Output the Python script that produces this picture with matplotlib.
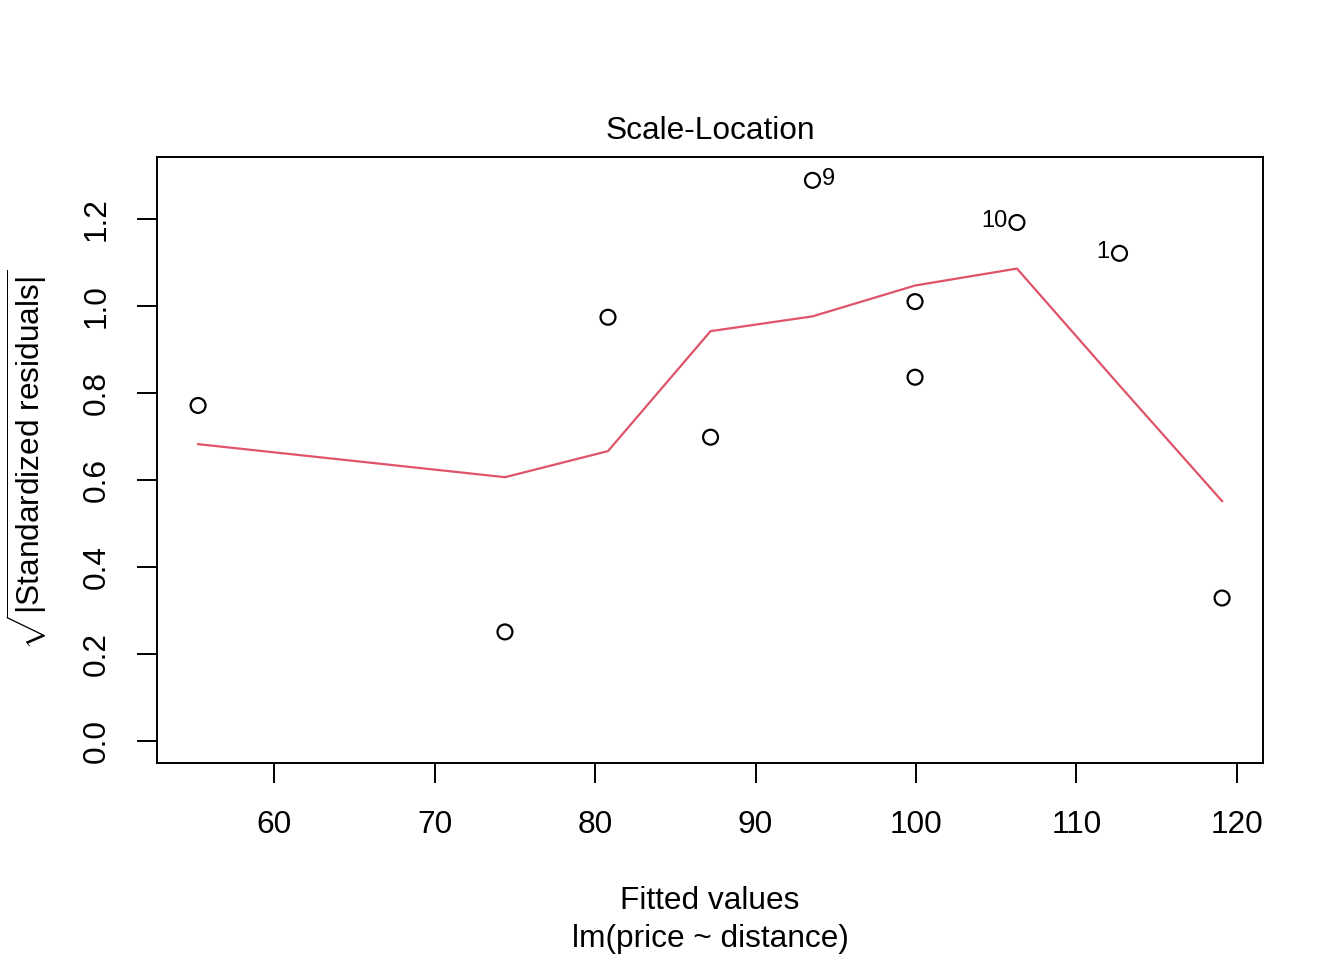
import matplotlib
matplotlib.use("Agg")
import matplotlib.pyplot as plt

plt.rcParams['font.family'] = ['Liberation Sans', 'DejaVu Sans']
plt.rcParams['mathtext.fontset'] = 'custom'
plt.rcParams['mathtext.rm'] = 'Liberation Sans'
plt.rcParams['mathtext.it'] = 'Liberation Sans'

# Data
fitted = [55.27, 74.39, 80.81, 87.20, 93.55, 99.94, 99.94, 106.29, 112.68, 119.07]
sqrt_std_resid = [0.772, 0.251, 0.975, 0.699, 1.290, 1.011, 0.837, 1.193, 1.122, 0.329]
smooth_x = [55.27, 74.39, 80.81, 87.20, 93.55, 99.94, 106.29, 112.68, 119.07]
smooth_y = [0.683, 0.607, 0.667, 0.943, 0.977, 1.048, 1.087, 0.818, 0.552]
label_idx = [4, 7, 8]
label_txt = ['9', '10', '1']
label_side = ['right', 'left', 'left']
xticks = [60, 70, 80, 90, 100, 110, 120]
yticks = [0.0, 0.2, 0.4, 0.6, 0.8, 1.0, 1.2]

FS = 22.8

fig = plt.figure(figsize=(13.44, 9.6), dpi=100)
ax = fig.add_axes([157/1344, 1-763/960, (1263-157)/1344, (763-157)/960])

ax.plot(smooth_x, smooth_y, color='#DF536B', lw=1.6, zorder=2)
ax.scatter(fitted, sqrt_std_resid, s=115, facecolors='none', edgecolors='black',
           linewidths=1.6, zorder=3)

for i, t, side in zip(label_idx, label_txt, label_side):
    if side == 'right':
        ax.annotate(t, (fitted[i], sqrt_std_resid[i]), xytext=(7, 1),
                    textcoords='offset points', ha='left', va='center', fontsize=17)
    else:
        ax.annotate(t, (fitted[i], sqrt_std_resid[i]), xytext=(-7, 1),
                    textcoords='offset points', ha='right', va='center', fontsize=17)

ax.set_xlim(52.71, 121.62)
ax.set_ylim(-0.0506, 1.3437)
ax.set_xticks(xticks)
ax.set_xticklabels([str(v) for v in xticks])
ax.set_yticks(yticks)
ax.set_yticklabels([f"{v:.1f}" for v in yticks], rotation=90, va='center')

ax.tick_params(axis='both', length=14.5, width=1.4, labelsize=FS, direction='out')
ax.tick_params(axis='x', pad=19)
ax.tick_params(axis='y', pad=18)
for sp in ax.spines.values():
    sp.set_linewidth(1.4)

fig.text((157+1263)/2/1344, 1-131/960, 'Scale-Location', ha='center', va='center', fontsize=FS)
fig.text((157+1263)/2/1344, 1-901/960, 'Fitted values', ha='center', va='center', fontsize=FS)
fig.text((157+1263)/2/1344, 1-939/960, 'lm(price ~ distance)', ha='center', va='center', fontsize=FS)
fig.text(27/1344, 1-460/960, r'$\sqrt{|\mathrm{Standardized\ residuals}|}$', rotation=90,
         ha='center', va='center', fontsize=FS)

fig.savefig('out.png', dpi=100, facecolor='white')
